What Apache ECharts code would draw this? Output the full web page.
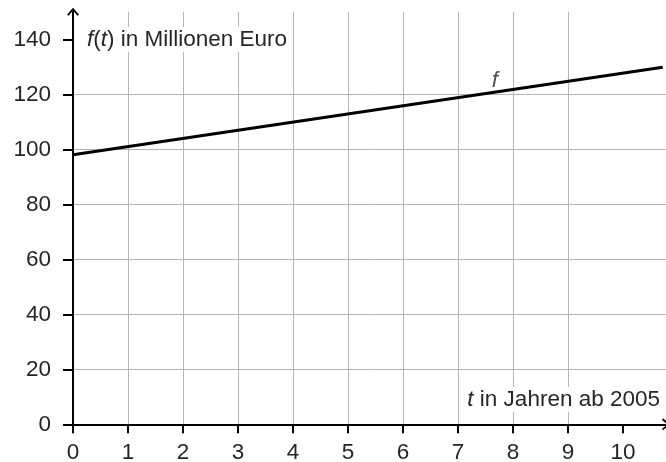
<!DOCTYPE html>
<html>
<head>
<meta charset="utf-8">
<script src="https://cdn.jsdelivr.net/npm/echarts@6/dist/echarts.min.js"></script>
<style>html,body{margin:0;padding:0;background:#fff}#c{width:666px;height:462px}</style>
</head>
<body>
<div id="c"></div>
<script>
// Data
var tValues = [0, 10.72];
var fValues = [98, 129.8];
var xTicks = [0, 1, 2, 3, 4, 5, 6, 7, 8, 9, 10];
var yTicks = [0, 20, 40, 60, 80, 100, 120, 140];
var curveLabel = 'f';
var curveLabelAt = [7.67, 120.8];
var xName = '{i|t} in Jahren ab 2005';
var yName = '{i|f}({i|t}) in Millionen Euro';

var FONT = '"Liberation Sans", Arial, sans-serif';
var FS = 22.5;
var TXT = '#262626';
var arrowPath = 'path://M0,7 L6,0 L12,7 L10.4,8 L6,2.6 L1.6,8 Z';

var lineData = tValues.map(function (t, i) { return [t, fValues[i]]; });

var chart = echarts.init(document.getElementById('c'), null, {renderer: 'canvas'});
chart.setOption({
  animation: false,
  backgroundColor: '#fff',
  grid: {left: 73, right: 0, top: 11.8, bottom: 37.7, containLabel: false, outerBoundsMode: 'none'},
  xAxis: {
    type: 'value', min: 0, max: 10.78, interval: 1,
    axisLine: {show: true, onZero: false, lineStyle: {color: '#000', width: 2},
      symbol: ['none', arrowPath], symbolSize: [12, 8]},
    axisTick: {show: true, length: 9, lineStyle: {color: '#000', width: 2}, customValues: xTicks},
    axisLabel: {color: TXT, fontFamily: FONT, fontSize: FS, margin: 17, customValues: xTicks,
      formatter: function (v) { return String(v); }},
    splitLine: {show: true, showMaxLine: false, lineStyle: {color: '#b5b5b5', width: 1}}
  },
  yAxis: {
    type: 'value', min: 0, max: 150, interval: 20,
    axisLine: {show: true, onZero: false, lineStyle: {color: '#000', width: 2},
      symbol: ['none', arrowPath], symbolSize: [12, 8]},
    axisTick: {show: true, length: 10, lineStyle: {color: '#000', width: 2}, customValues: yTicks},
    axisLabel: {color: TXT, fontFamily: FONT, fontSize: FS, margin: 22, customValues: yTicks},
    splitLine: {show: true, showMaxLine: false, lineStyle: {color: '#b5b5b5', width: 1}}
  },
  graphic: [
    {type: 'text', left: 83, top: 27, z: 100,
      style: {text: yName, fill: TXT, font: FS + 'px ' + FONT, backgroundColor: '#fff', padding: [1, 4, 1, 4],
        rich: {i: {fontStyle: 'italic', fontFamily: FONT, fontSize: FS, fill: TXT}}}},
    {type: 'text', right: 3, top: 387, z: 100,
      style: {text: xName, fill: TXT, font: FS + 'px ' + FONT, backgroundColor: '#fff', padding: [1, 3, 1, 4],
        rich: {i: {fontStyle: 'italic', fontFamily: FONT, fontSize: FS, fill: TXT}}}}
  ],
  series: [
    {type: 'line', data: lineData, showSymbol: false, symbol: 'none',
      lineStyle: {color: '#000', width: 3}, z: 5},
    {type: 'scatter', data: [curveLabelAt], symbolSize: 0, silent: true,
      label: {show: true, position: 'top', distance: 0, formatter: curveLabel,
        fontStyle: 'italic', fontFamily: FONT, fontSize: FS, color: TXT}}
  ]
});
</script>
</body>
</html>
